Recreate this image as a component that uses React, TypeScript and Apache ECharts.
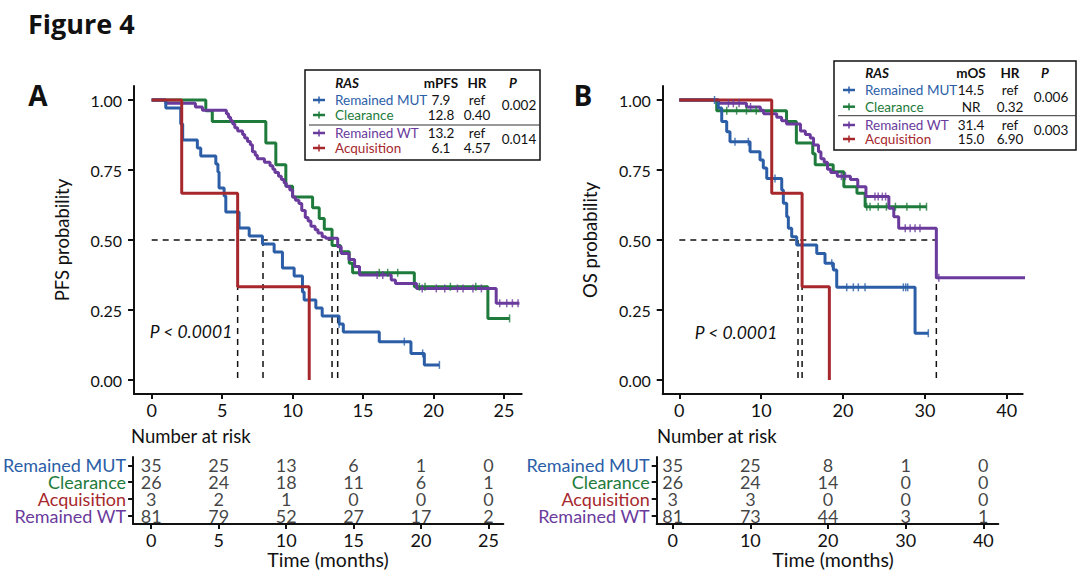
import React, { useEffect, useRef } from "react";
import * as echarts from "echarts";

type Pt = [number, number];

const FONT = "Lato, 'Open Sans', sans-serif";
const C_MUT = "#2B5EA7";
const C_CLR = "#1E7B3B";
const C_ACQ = "#A6282D";
const C_WT = "#6A3B9C";

const groups = ["Remained MUT", "Clearance", "Acquisition", "Remained WT"];
const groupColors = [C_MUT, C_CLR, C_ACQ, C_WT];

// ---------- Panel A: PFS ----------
const pfsMut: Pt[] = [[0,1],[1.0,0.971],[2.06,0.914],[2.2,0.857],[3.24,0.829],[3.48,0.8],[4.55,0.771],[4.7,0.743],[4.78,0.686],[5.14,0.657],[5.26,0.6],[6.2,0.543],[6.92,0.514],[7.86,0.486],[8.69,0.457],[9.28,0.4],[10.11,0.371],[10.7,0.314],[10.82,0.286],[11.65,0.257],[12.1,0.229],[13.3,0.2],[13.6,0.171],[16.15,0.137],[18.4,0.095],[19.35,0.054],[20.42,0.054]];
const pfsClr: Pt[] = [[0,1],[3.84,0.962],[4.3,0.923],[8.1,0.846],[8.81,0.769],[9.52,0.692],[10.0,0.654],[11.42,0.615],[11.89,0.577],[12.25,0.538],[12.8,0.48],[13.4,0.458],[14.02,0.417],[14.26,0.383],[18.64,0.333],[23.86,0.22],[25.4,0.22]];
const pfsAcq: Pt[] = [[0,1],[2.13,0.667],[6.1,0.333],[11.18,0]];
const pfsWt: Pt[] = [[0,1],[1.0,0.988],[3.1,0.975],[3.6,0.963],[5.3,0.951],[5.45,0.938],[5.6,0.926],[5.75,0.914],[5.9,0.901],[6.1,0.889],[6.45,0.877],[6.6,0.864],[6.8,0.852],[7.0,0.84],[7.15,0.815],[7.35,0.803],[7.5,0.79],[8.0,0.778],[8.4,0.765],[8.6,0.753],[8.75,0.741],[9.0,0.728],[9.2,0.716],[9.4,0.704],[9.55,0.691],[9.8,0.679],[10.0,0.654],[10.2,0.642],[10.45,0.63],[10.65,0.605],[10.9,0.58],[11.1,0.568],[11.3,0.549],[11.6,0.537],[11.8,0.525],[12.1,0.512],[12.35,0.506],[13.2,0.476],[13.45,0.452],[14.0,0.43],[14.4,0.405],[14.75,0.375],[17.0,0.357],[17.3,0.345],[18.8,0.327],[24.45,0.274],[26.1,0.274]];

const pfsMutCens: Pt[] = [[13.3,0.2],[17.93,0.137],[19.23,0.095],[20.42,0.054]];
const pfsClrCens: Pt[] = [[16.15,0.383],[16.75,0.383],[17.46,0.383],[19.0,0.333],[19.4,0.333],[21.2,0.333],[23.0,0.333],[25.4,0.22]];
const pfsWtCens: Pt[] = [[16.0,0.375],[16.4,0.375],[19.2,0.327],[20.2,0.327],[20.8,0.327],[21.7,0.327],[22.1,0.327],[22.8,0.327],[23.4,0.327],[24.7,0.274],[25.2,0.274],[25.6,0.274],[26.0,0.274]];

const mediansA = [6.1, 7.9, 12.8, 13.2];

// ---------- Panel B: OS ----------
const osMut: Pt[] = [[0,1],[4.76,0.971],[5.18,0.923],[5.79,0.887],[6.19,0.851],[8.64,0.815],[9.86,0.786],[10.26,0.757],[10.68,0.72],[12.51,0.679],[12.71,0.631],[13.12,0.583],[13.32,0.542],[13.73,0.512],[14.34,0.482],[16.79,0.452],[17.8,0.417],[18.82,0.393],[19.23,0.331],[28.8,0.167],[30.42,0.167]];
const osClr: Pt[] = [[0,1],[4.57,0.962],[13.1,0.923],[14.3,0.846],[16.3,0.808],[16.6,0.769],[18.8,0.744],[20.1,0.69],[21.7,0.667],[22.7,0.619],[30.2,0.619]];
const osAcq: Pt[] = [[0,1],[11.29,0.667],[15.0,0.333],[18.33,0]];
const osWt: Pt[] = [[0,1],[4.8,0.988],[8.2,0.975],[9.9,0.963],[10.3,0.951],[11.9,0.938],[12.5,0.926],[13.1,0.914],[14.8,0.889],[15.4,0.877],[16.0,0.864],[16.4,0.839],[17.0,0.815],[17.3,0.79],[17.7,0.778],[18.1,0.753],[18.5,0.741],[19.3,0.728],[20.9,0.716],[21.8,0.69],[22.8,0.655],[25.6,0.613],[26.2,0.583],[26.8,0.542],[31.4,0.365],[42.76,0.365]];

const osMutCens: Pt[] = [[4.3,1],[6.8,0.851],[8.43,0.851],[11.69,0.72],[18.62,0.417],[20.45,0.331],[21.26,0.331],[21.87,0.331],[22.69,0.331],[27.37,0.331],[27.66,0.331],[27.9,0.331],[30.42,0.167]];
const osClrCens: Pt[] = [[5.8,0.962],[7.0,0.962],[8.2,0.962],[9.4,0.962],[22.9,0.619],[23.3,0.619],[24.3,0.619],[25.3,0.619],[26.4,0.619],[27.8,0.619],[29.4,0.619],[30.2,0.619]];
const osWtCens: Pt[] = [[6.0,0.988],[6.6,0.988],[7.3,0.988],[8.7,0.975],[19.8,0.728],[20.3,0.728],[23.9,0.655],[24.3,0.655],[24.8,0.655],[25.2,0.655],[27.6,0.542],[28.2,0.542],[28.8,0.542],[29.4,0.542],[31.7,0.365]];

const mediansB = [14.5, 15.0, 31.4];

// ---------- Ticks ----------
const xTicksA = [0, 5, 10, 15, 20, 25];
const xTicksB = [0, 10, 20, 30, 40];
const yTicks = [0, 0.25, 0.5, 0.75, 1];

// ---------- Number at risk ----------
const riskA_mut = [35, 25, 13, 6, 1, 0];
const riskA_clr = [26, 24, 18, 11, 6, 1];
const riskA_acq = [3, 2, 1, 0, 0, 0];
const riskA_wt = [81, 79, 52, 27, 17, 2];
const riskB_mut = [35, 25, 8, 1, 0];
const riskB_clr = [26, 24, 14, 0, 0];
const riskB_acq = [3, 3, 0, 0, 0];
const riskB_wt = [81, 73, 44, 3, 1];

// ---------- Legend tables ----------
const legendNames = ["Remained MUT", "Clearance", "Remained WT", "Acquisition"];
const legendColors = [C_MUT, C_CLR, C_WT, C_ACQ];
const mPFS = ["7.9", "12.8", "13.2", "6.1"];
const hrA = ["ref", "0.40", "ref", "4.57"];
const pA = ["0.002", "0.014"];
const mOS = ["14.5", "NR", "31.4", "15.0"];
const hrB = ["ref", "0.32", "ref", "6.90"];
const pB = ["0.006", "0.003"];

function txt(x: number, y: number, text: string, o: any = {}) {
  return {
    type: "text",
    x,
    y,
    rotation: o.rotation || 0,
    silent: true,
    style: {
      text,
      fill: o.color || "#111",
      fontSize: o.size || 16,
      fontWeight: o.weight || "normal",
      fontStyle: o.style || "normal",
      fontFamily: o.family || FONT,
      align: o.align || "left",
      verticalAlign: o.va || "middle",
    },
  };
}

function legendBox(b: any, head: string, mvals: string[], hrs: string[], ps: string[]) {
  const els: any[] = [];
  const fs = 13.5;
  els.push({ type: "rect", shape: { x: b.x, y: b.y, width: b.w, height: b.h }, style: { fill: "#fff", stroke: "#111", lineWidth: 1.5 }, silent: true });
  els.push({ type: "line", shape: { x1: b.x + 4, y1: b.sepY, x2: b.x + b.w, y2: b.sepY }, style: { stroke: "#333", lineWidth: 1 }, silent: true });
  els.push(txt(b.textX + 12, b.headY, "RAS", { size: fs, weight: "bold", style: "italic", align: "center" }));
  els.push(txt(b.mX, b.headY, head, { size: fs, weight: "bold", align: "center" }));
  els.push(txt(b.hrX, b.headY, "HR", { size: fs, weight: "bold", align: "center" }));
  els.push(txt(b.pX - 6, b.headY, "P", { size: fs, weight: "bold", style: "italic", align: "center" }));
  legendNames.forEach((n, i) => {
    const y = b.rows[i];
    els.push({ type: "line", shape: { x1: b.iconX, y1: y, x2: b.iconX + 12, y2: y }, style: { stroke: legendColors[i], lineWidth: 2.5 }, silent: true });
    els.push({ type: "line", shape: { x1: b.iconX + 6, y1: y - 3.5, x2: b.iconX + 6, y2: y + 3.5 }, style: { stroke: legendColors[i], lineWidth: 1.5 }, silent: true });
    els.push(txt(b.textX, y, n, { size: fs, color: legendColors[i] }));
    els.push(txt(b.mX, y, mvals[i], { size: fs, align: "center" }));
    els.push(txt(b.hrX, y, hrs[i], { size: fs, align: "center" }));
  });
  els.push(txt(b.pX, b.pY[0], ps[0], { size: fs, align: "center" }));
  els.push(txt(b.pX, b.pY[1], ps[1], { size: fs, align: "center" }));
  return els;
}

function stepSeries(data: Pt[], color: string, xi: number, clip = true) {
  return {
    type: "line",
    xAxisIndex: xi,
    yAxisIndex: xi,
    data,
    step: "end",
    symbol: "none",
    clip,
    silent: true,
    lineStyle: { color, width: 3 },
    z: 3,
  };
}

function censSeries(data: Pt[], color: string, xi: number) {
  return {
    type: "scatter",
    xAxisIndex: xi,
    yAxisIndex: xi,
    data,
    symbol: "rect",
    symbolSize: [1.5, 8],
    silent: true,
    itemStyle: { color },
    z: 4,
  };
}

function medianSeries(meds: number[], xi: number) {
  const out: any[] = [];
  const maxM = Math.max(...meds);
  const dashed = { color: "#111", width: 1.5, type: [6, 5] };
  out.push({ type: "line", xAxisIndex: xi, yAxisIndex: xi, data: [[0, 0.5], [maxM, 0.5]], symbol: "none", silent: true, lineStyle: dashed, z: 2 });
  meds.forEach((m) => {
    out.push({ type: "line", xAxisIndex: xi, yAxisIndex: xi, data: [[m, 0.5], [m, 0]], symbol: "none", silent: true, lineStyle: dashed, z: 2 });
  });
  return out;
}

function riskSeries(times: number[], rows: number[][], xi: number) {
  return rows.map((vals, r) => ({
    type: "scatter",
    xAxisIndex: xi,
    yAxisIndex: xi,
    data: times.map((t, i) => [t, groups[r], vals[i]]),
    symbolSize: 1,
    silent: true,
    itemStyle: { color: "transparent" },
    label: {
      show: true,
      position: "inside",
      formatter: (p: any) => String(p.value[2]),
      fontSize: 18,
      fontFamily: FONT,
      color: "#111",
    },
  }));
}

const axisLine = { show: true, onZero: false, lineStyle: { color: "#111", width: 2 } };

function plotX(gi: number, min: number, max: number, ticks: number[]) {
  return {
    type: "value",
    gridIndex: gi,
    min,
    max,
    axisLine,
    axisTick: { show: true, customValues: ticks, length: 5, lineStyle: { color: "#111", width: 2 } },
    axisLabel: { customValues: ticks, fontSize: 18, fontFamily: FONT, color: "#111", margin: 7 },
    splitLine: { show: false },
  };
}

function plotY(gi: number) {
  return {
    type: "value",
    gridIndex: gi,
    min: -0.05,
    max: 1.05,
    axisLine,
    axisTick: { show: true, customValues: yTicks, length: 6, lineStyle: { color: "#111", width: 2 } },
    axisLabel: { customValues: yTicks, fontSize: 16, fontFamily: FONT, color: "#111", margin: 12, formatter: (v: number) => v.toFixed(2) },
    splitLine: { show: false },
  };
}

function tableY(gi: number) {
  return {
    type: "category",
    gridIndex: gi,
    data: groups,
    inverse: true,
    axisLine,
    axisTick: { show: true, alignWithLabel: true, length: 5, lineStyle: { color: "#111", width: 2 } },
    axisLabel: {
      interval: 0,
      hideOverlap: false,
      fontSize: 18,
      fontFamily: FONT,
      margin: 7,
      color: (v: any) => groupColors[Math.max(0, groups.indexOf(String(v)))],
    },
    splitLine: { show: false },
  };
}

export default function App() {
  const ref = useRef<HTMLDivElement>(null);
  useEffect(() => {
    if (!ref.current) return;
    const chart = echarts.init(ref.current, null, { renderer: "svg" });
    const boxA = { x: 305, y: 70, w: 235, h: 90, sepY: 125, headY: 83, rows: [100, 115, 133, 148], iconX: 313, textX: 335, mX: 441, hrX: 477, pX: 519, pY: [105, 139] };
    const boxB = { x: 834, y: 61, w: 242, h: 89, sepY: 115.7, headY: 73, rows: [90, 106.7, 125, 139], iconX: 843, textX: 865, mX: 971, hrX: 1010, pX: 1051, pY: [97, 130] };

    const graphic: any[] = [
      txt(28, 23, "Figure 4", { size: 27, weight: "bold", family: "'Open Sans', sans-serif" }),
      txt(38, 95, "A", { size: 28, weight: "bold", align: "center", family: "'Open Sans', sans-serif" }),
      txt(583, 95, "B", { size: 28, weight: "bold", align: "center", family: "'Open Sans', sans-serif" }),
      txt(62, 240, "PFS probability", { size: 18.5, align: "center", rotation: Math.PI / 2 }),
      txt(590, 240, "OS probability", { size: 18.5, align: "center", rotation: Math.PI / 2 }),
      txt(191, 331, "P < 0.0001", { size: 17.5, style: "italic", align: "center" }),
      txt(736, 332, "P < 0.0001", { size: 17.5, style: "italic", align: "center" }),
      txt(131, 436, "Number at risk", { size: 18.5 }),
      txt(657, 436, "Number at risk", { size: 18.5 }),
      txt(328, 559, "Time (months)", { size: 19.5, align: "center" }),
      txt(833, 559, "Time (months)", { size: 19.5, align: "center" }),
      ...legendBox(boxA, "mPFS", mPFS, hrA, pA),
      ...legendBox(boxB, "mOS", mOS, hrB, pB),
    ];

    const option: any = {
      animation: false,
      backgroundColor: "#fff",
      textStyle: { fontFamily: FONT },
      grid: [
        { left: 134, top: 86, width: 387.7, height: 308 },
        { left: 662.7, top: 86, width: 360, height: 308 },
        { left: 130, top: 457, width: 373.3, height: 67 },
        { left: 656.7, top: 457, width: 341.6, height: 67 },
      ],
      xAxis: [
        plotX(0, -1.256, 26.26, xTicksA),
        plotX(1, -2.03, 41.95, xTicksB),
        plotX(2, -1.346, 26.1, xTicksA),
        plotX(3, -2.06, 41.93, xTicksB),
      ],
      yAxis: [plotY(0), plotY(1), tableY(2), tableY(3)],
      series: [
        ...medianSeries(mediansA, 0),
        stepSeries(pfsClr, C_CLR, 0),
        stepSeries(pfsWt, C_WT, 0),
        stepSeries(pfsMut, C_MUT, 0),
        stepSeries(pfsAcq, C_ACQ, 0),
        censSeries(pfsClrCens, C_CLR, 0),
        censSeries(pfsWtCens, C_WT, 0),
        censSeries(pfsMutCens, C_MUT, 0),
        ...medianSeries(mediansB, 1),
        stepSeries(osClr, C_CLR, 1),
        stepSeries(osWt, C_WT, 1, false),
        stepSeries(osMut, C_MUT, 1),
        stepSeries(osAcq, C_ACQ, 1),
        censSeries(osClrCens, C_CLR, 1),
        censSeries(osWtCens, C_WT, 1),
        censSeries(osMutCens, C_MUT, 1),
        ...riskSeries(xTicksA, [riskA_mut, riskA_clr, riskA_acq, riskA_wt], 2),
        ...riskSeries(xTicksB, [riskB_mut, riskB_clr, riskB_acq, riskB_wt], 3),
      ],
      graphic,
    };
    chart.setOption(option);
    return () => chart.dispose();
  }, []);
  return <div ref={ref} style={{ position: "fixed", left: 0, top: 0, width: 1080, height: 571 }} />;
}
